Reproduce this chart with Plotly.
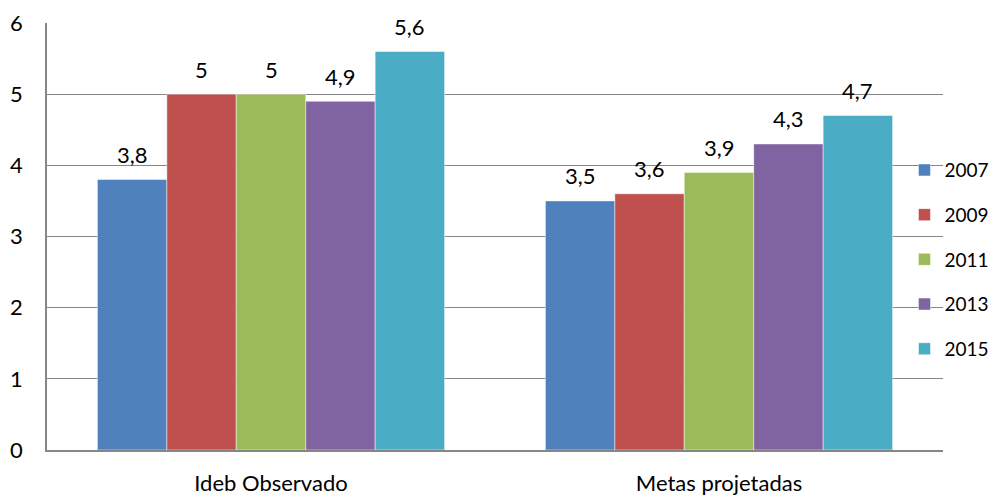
import plotly.graph_objects as go

# data
categories = ["Ideb Observado", "Metas projetadas"]
years = ["2007", "2009", "2011", "2013", "2015"]
values_2007 = [3.8, 3.5]
values_2009 = [5.0, 3.6]
values_2011 = [5.0, 3.9]
values_2013 = [4.9, 4.3]
values_2015 = [5.6, 4.7]
y_ticks = [0, 1, 2, 3, 4, 5, 6]

series = [values_2007, values_2009, values_2011, values_2013, values_2015]
colors = ["#4F81BD", "#C0504D", "#9BBB59", "#8064A2", "#4BACC6"]

FONT = "Lato"
GRID = "#868686"
# the page body adds an 8px margin, so the figure is a bit smaller than the window
W, H = 992, 487
MARGIN = dict(l=39, r=57, t=15, b=45, autoexpand=False)
BARGAP = 0.225

fig = go.Figure()

for year, vals, color in zip(years, series, colors):
    fig.add_trace(go.Bar(
        x=categories, y=vals, name=year,
        legendgroup=year,
        marker=dict(color=color, line=dict(color="rgba(255,255,255,0.6)", width=0.8)),
        cliponaxis=False,
    ))

# data labels sit a bit higher above the bars than plotly's "outside" text,
# so place them as annotations shifted to each bar's slot
plot_w = W - MARGIN["l"] - MARGIN["r"]
bar_px = plot_w / len(categories) * (1 - BARGAP) / len(series)
for i, vals in enumerate(series):
    for cat, v in zip(categories, vals):
        fig.add_annotation(
            x=cat, y=v, xref="x", yref="y",
            text=f"{v:g}".replace(".", ","),
            showarrow=False, yanchor="middle",
            xshift=(i - (len(series) - 1) / 2) * bar_px, yshift=25,
            font=dict(family=FONT, size=22, color="#000000"),
        )

fig.update_layout(
    width=W, height=H,
    margin=MARGIN,
    paper_bgcolor="white", plot_bgcolor="white",
    barmode="group", bargap=BARGAP, bargroupgap=0,
    font=dict(family=FONT, size=22, color="#000000"),
    legend=dict(
        x=0.957, xanchor="left", y=0.70, yanchor="top",
        bgcolor="rgba(0,0,0,0)", font=dict(family=FONT, size=19),
        tracegroupgap=17,
    ),
)

fig.update_xaxes(
    showline=True, linecolor=GRID, linewidth=2,
    ticks="", ticklabelstandoff=13, automargin=False,
    tickfont=dict(family=FONT, size=22),
)
fig.update_yaxes(
    range=[0, 6], tickvals=y_ticks,
    showgrid=True, gridcolor=GRID, gridwidth=1,
    showline=True, linecolor=GRID, linewidth=1.5,
    zeroline=False, ticks="", ticklabelstandoff=18, automargin=False,
    tickfont=dict(family=FONT, size=22),
)

fig.write_html("out.html")
